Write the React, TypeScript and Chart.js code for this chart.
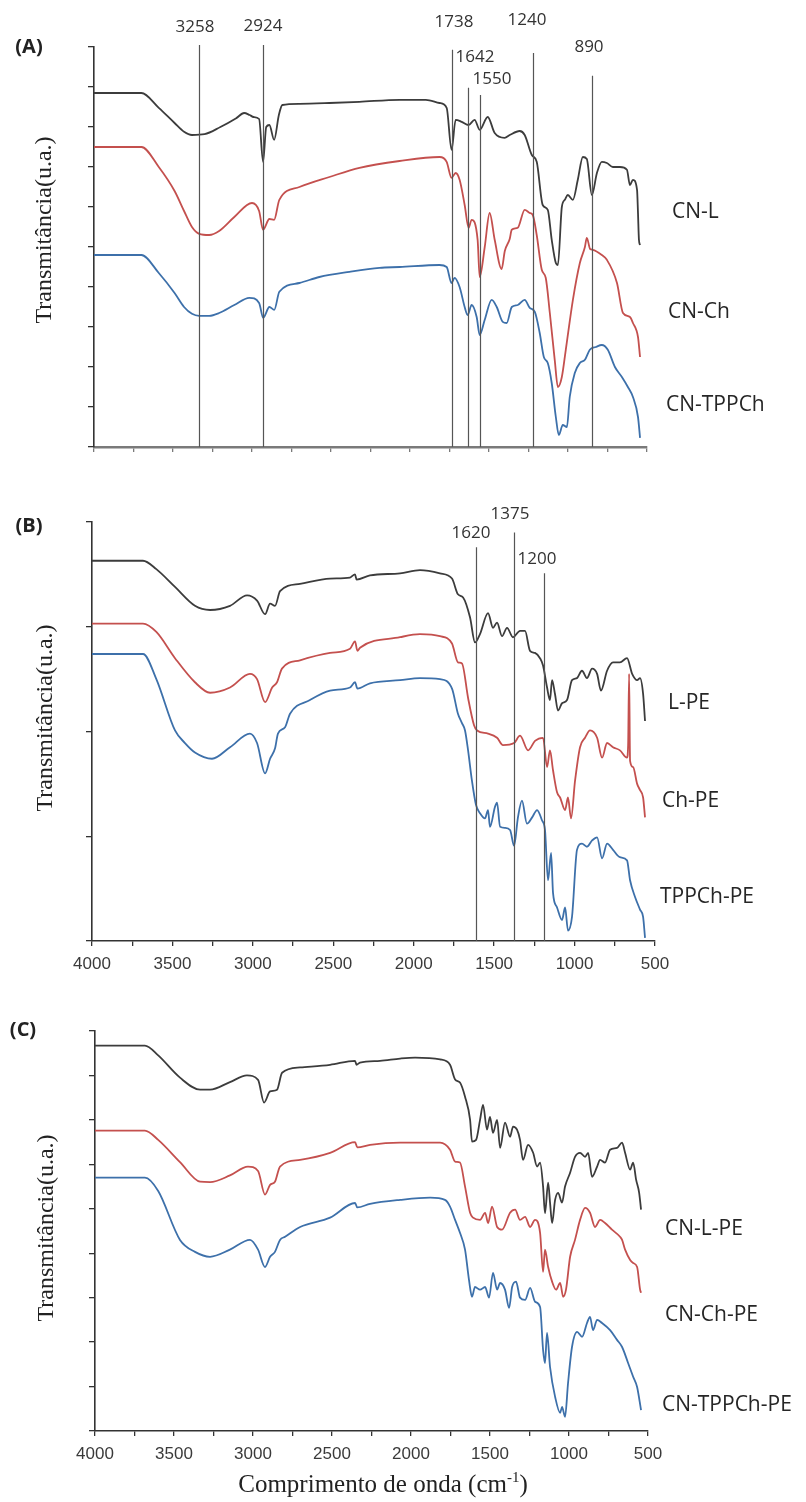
import React, { useEffect, useRef } from "react";
import { Chart, registerables } from "chart.js";
Chart.register(...registerables);

// ---------------- DATA (wavenumber cm-1, transmittance a.u.) ----------------
// Panel A
const cnL: number[][] = [[4000,8.85],[3700,8.85],[3590,8.48],[3490,8.1],[3430,7.88],[3380,7.8],[3300,7.82],[3200,8.0],[3100,8.22],[3050,8.35],[3015,8.3],[2990,8.25],[2955,8.2],[2930,7.13],[2910,8.0],[2890,8.05],[2860,7.68],[2830,8.3],[2808,8.55],[2700,8.58],[2510,8.6],[2320,8.63],[2066,8.68],[1900,8.68],[1813,8.6],[1768,8.48],[1737,7.43],[1711,8.18],[1673,8.13],[1629,8.05],[1591,8.18],[1559,7.93],[1508,8.25],[1464,7.85],[1401,7.73],[1369,7.8],[1306,7.9],[1274,7.8],[1229,7.3],[1198,7.13],[1160,6.05],[1128,5.93],[1103,5.18],[1077,4.6],[1064,4.55],[1039,6.0],[1020,6.18],[1001,6.3],[969,6.18],[938,6.68],[906,7.25],[881,7.2],[849,6.3],[817,6.85],[786,7.13],[754,7.1],[716,7.0],[671,7.0],[627,6.93],[608,6.55],[589,6.68],[563,6.43],[557,5.85],[551,5.18],[544,5.05]];
const cnCh: number[][] = [[4000,7.5],[3700,7.5],[3590,7.0],[3490,6.4],[3430,5.9],[3380,5.5],[3334,5.33],[3271,5.3],[3208,5.4],[3112,5.75],[3000,6.1],[2955,5.9],[2930,5.43],[2890,5.7],[2860,5.68],[2827,6.18],[2700,6.5],[2510,6.75],[2320,6.98],[2066,7.15],[1813,7.25],[1768,7.13],[1737,6.73],[1711,6.85],[1686,6.68],[1654,6.05],[1629,5.48],[1610,5.68],[1572,5.18],[1559,4.25],[1527,5.0],[1496,5.85],[1464,5.18],[1420,4.45],[1400,4.9],[1369,5.2],[1356,5.43],[1318,5.48],[1274,5.93],[1242,5.85],[1223,5.8],[1198,5.3],[1166,4.43],[1141,4.23],[1115,3.35],[1084,2.18],[1064,1.5],[1039,1.75],[1014,2.43],[969,3.68],[925,4.6],[893,5.0],[881,5.23],[860,4.95],[843,4.93],[786,4.8],[754,4.68],[690,4.1],[652,3.35],[608,3.25],[589,3.1],[557,2.75],[544,2.25]];
const cnTPPCh: number[][] = [[4000,4.8],[3700,4.8],[3590,4.35],[3490,3.85],[3430,3.5],[3380,3.33],[3334,3.28],[3271,3.28],[3208,3.35],[3112,3.55],[3017,3.73],[2955,3.6],[2929,3.23],[2890,3.5],[2859,3.43],[2827,3.88],[2700,4.1],[2574,4.25],[2383,4.38],[2193,4.48],[2066,4.5],[1813,4.55],[1768,4.5],[1737,4.1],[1718,4.23],[1686,4.0],[1654,3.5],[1635,3.3],[1610,3.55],[1578,3.25],[1559,2.8],[1527,3.18],[1483,3.68],[1451,3.5],[1413,3.13],[1388,3.1],[1356,3.5],[1318,3.55],[1274,3.68],[1242,3.48],[1210,3.38],[1179,2.85],[1153,2.25],[1128,2.1],[1103,1.6],[1077,0.75],[1058,0.3],[1033,0.55],[1007,0.5],[989,1.25],[957,1.85],[925,2.1],[893,2.18],[862,2.43],[824,2.5],[786,2.55],[748,2.43],[703,2.0],[659,1.75],[621,1.5],[589,1.25],[557,0.75],[544,0.23]];

// Panel B
const lPE: number[][] = [[4000,3.63],[3683,3.63],[3600,3.55],[3484,3.38],[3360,3.2],[3266,3.16],[3142,3.2],[3036,3.3],[2974,3.25],[2924,3.12],[2893,3.22],[2862,3.2],[2831,3.34],[2707,3.41],[2520,3.46],[2396,3.47],[2365,3.5],[2355,3.45],[2272,3.49],[2085,3.51],[1961,3.54],[1837,3.51],[1762,3.46],[1725,3.31],[1693,3.28],[1650,3.09],[1619,2.85],[1588,2.93],[1538,3.13],[1507,2.99],[1482,3.04],[1451,2.91],[1420,2.99],[1383,2.9],[1339,2.96],[1308,2.96],[1277,2.77],[1246,2.75],[1215,2.7],[1196,2.63],[1171,2.42],[1153,2.3],[1140,2.49],[1122,2.36],[1103,2.2],[1078,2.27],[1047,2.3],[1016,2.49],[985,2.51],[954,2.58],[923,2.51],[891,2.6],[860,2.55],[836,2.39],[798,2.58],[761,2.66],[718,2.66],[674,2.7],[642,2.55],[611,2.49],[593,2.51],[574,2.36],[562,2.1]];
const chPE: number[][] = [[4000,3.03],[3683,3.03],[3600,2.95],[3484,2.7],[3360,2.47],[3266,2.37],[3142,2.42],[3018,2.55],[2974,2.5],[2924,2.28],[2880,2.42],[2850,2.47],[2819,2.6],[2707,2.68],[2520,2.75],[2396,2.79],[2365,2.86],[2350,2.77],[2334,2.8],[2085,2.9],[1961,2.93],[1837,2.91],[1762,2.84],[1725,2.66],[1700,2.65],[1662,2.32],[1625,2.06],[1606,2.01],[1538,1.98],[1482,1.94],[1445,1.87],[1376,1.89],[1339,1.96],[1289,1.82],[1246,1.91],[1196,1.94],[1171,1.66],[1153,1.82],[1134,1.63],[1109,1.42],[1090,1.37],[1059,1.25],[1041,1.37],[1022,1.17],[997,1.53],[966,1.85],[935,1.94],[904,2.01],[860,1.94],[829,1.75],[798,1.89],[761,1.85],[718,1.82],[674,1.75],[667,1.87],[661,2.55],[655,1.72],[636,1.66],[611,1.5],[593,1.44],[574,1.37],[562,1.18]];
const tppchPE: number[][] = [[4000,2.74],[3683,2.74],[3600,2.5],[3484,2.01],[3422,1.89],[3360,1.8],[3254,1.74],[3142,1.85],[3018,1.98],[2974,1.89],[2924,1.6],[2893,1.74],[2862,1.84],[2844,1.98],[2800,2.04],[2769,2.17],[2645,2.3],[2520,2.39],[2396,2.42],[2365,2.47],[2350,2.41],[2272,2.46],[2085,2.49],[1961,2.51],[1837,2.5],[1762,2.41],[1725,2.17],[1700,2.08],[1681,2.01],[1662,1.82],[1638,1.53],[1613,1.3],[1588,1.22],[1557,1.17],[1538,1.25],[1526,1.09],[1495,1.28],[1482,1.32],[1463,1.09],[1432,1.08],[1401,1.06],[1376,0.91],[1352,1.18],[1327,1.34],[1296,1.12],[1264,1.18],[1233,1.25],[1202,1.15],[1184,1.06],[1165,0.58],[1146,0.84],[1134,0.46],[1109,0.32],[1078,0.2],[1059,0.32],[1041,0.1],[1016,0.23],[985,0.87],[954,0.93],[923,0.9],[891,0.96],[860,0.99],[829,0.79],[798,0.93],[761,0.87],[718,0.8],[674,0.77],[655,0.58],[624,0.42],[593,0.3],[574,0.23],[562,0.03]];

// Panel C
const cnLPE: number[][] = [[4000,8.67],[3684,8.67],[3600,8.45],[3462,7.95],[3335,7.68],[3272,7.68],[3146,7.85],[3038,8.0],[2968,7.9],[2930,7.39],[2892,7.64],[2848,7.68],[2816,8.06],[2702,8.18],[2512,8.24],[2354,8.33],[2345,8.24],[2323,8.29],[2196,8.33],[2069,8.38],[1974,8.4],[1816,8.36],[1753,8.24],[1721,7.91],[1690,7.84],[1658,7.52],[1626,7.0],[1614,6.51],[1588,6.55],[1563,7.0],[1544,7.34],[1519,6.78],[1500,7.07],[1481,6.71],[1455,7.0],[1436,6.37],[1405,6.94],[1373,6.62],[1354,6.85],[1329,6.78],[1310,6.55],[1291,6.1],[1259,6.44],[1227,6.26],[1202,5.95],[1183,6.04],[1164,5.5],[1152,4.9],[1132,5.59],[1120,5.14],[1107,4.68],[1088,5.2],[1069,5.36],[1044,5.14],[1025,5.5],[993,5.81],[962,6.17],[930,6.26],[898,6.17],[879,6.26],[854,5.72],[822,5.95],[803,6.1],[772,6.04],[740,6.33],[696,6.37],[664,6.49],[645,6.26],[613,5.88],[594,6.04],[575,5.65],[556,5.36],[544,4.98]];
const cnChPE: number[][] = [[4000,6.76],[3684,6.76],[3600,6.55],[3462,6.05],[3335,5.61],[3272,5.6],[3146,5.75],[3032,5.95],[2968,5.85],[2924,5.32],[2892,5.54],[2861,5.61],[2829,5.95],[2702,6.1],[2512,6.26],[2354,6.5],[2340,6.38],[2259,6.44],[2069,6.49],[1816,6.49],[1753,6.33],[1721,6.06],[1690,6.04],[1658,5.5],[1626,4.91],[1607,4.8],[1563,4.75],[1531,4.91],[1512,4.68],[1487,5.05],[1455,4.59],[1424,4.53],[1373,4.91],[1341,4.98],[1310,4.75],[1278,4.82],[1246,4.59],[1215,4.75],[1183,4.46],[1164,3.58],[1152,4.08],[1132,3.69],[1107,3.36],[1082,3.18],[1056,3.33],[1037,3.02],[1019,3.18],[993,3.92],[962,4.3],[930,4.75],[898,5.02],[867,4.91],[835,4.59],[803,4.75],[772,4.68],[728,4.53],[677,4.37],[664,4.3],[645,4.08],[613,3.85],[594,3.78],[569,3.69],[550,3.18],[544,3.11]];
const cnTPPChPE: number[][] = [[4000,5.7],[3684,5.7],[3600,5.4],[3462,4.3],[3367,4.03],[3272,3.92],[3146,4.08],[3019,4.3],[2968,4.08],[2924,3.69],[2892,3.92],[2861,4.03],[2829,4.3],[2797,4.37],[2702,4.59],[2512,4.8],[2354,5.13],[2340,5.03],[2259,5.11],[2069,5.2],[1879,5.25],[1785,5.2],[1753,5.05],[1721,4.75],[1690,4.46],[1658,4.08],[1633,3.4],[1614,3.02],[1595,3.24],[1563,3.18],[1531,3.24],[1506,3.0],[1481,3.56],[1455,3.18],[1436,3.33],[1405,3.18],[1379,2.77],[1360,3.24],[1335,3.36],[1310,3.0],[1278,2.95],[1246,3.22],[1215,2.91],[1183,2.79],[1164,1.82],[1152,1.53],[1139,2.21],[1120,1.44],[1088,0.77],[1056,0.41],[1044,0.54],[1025,0.32],[1006,1.08],[981,1.89],[949,2.23],[917,2.12],[886,2.43],[867,2.57],[848,2.27],[822,2.5],[791,2.43],[740,2.27],[696,2.05],[664,1.89],[626,1.53],[594,1.22],[569,0.99],[544,0.47]];

// Marked bands
const peakLabelsA = ["3258", "2924", "1738", "1642", "1550", "1240", "890"];
const peakPosA = [3334, 2929, 1737, 1635, 1559, 1223, 849];
const peakTopA = [10.05, 10.05, 9.93, 8.98, 8.8, 9.85, 9.28];
const peakLabelsB = ["1620", "1375", "1200"];
const peakPosB = [1610, 1376, 1190];
const peakTopB = [3.76, 3.9, 3.51];

const namesA = ["CN-L", "CN-Ch", "CN-TPPCh"];
const namesB = ["L-PE", "Ch-PE", "TPPCh-PE"];
const namesC = ["CN-L-PE", "CN-Ch-PE", "CN-TPPCh-PE"];

// ---------------- STYLE ----------------
const BLACK = "#3c3c3c";
const RED = "#c4504e";
const BLUE = "#3d70aa";
const SANS = '"Open Sans", "Noto Sans", sans-serif';
const SERIF = '"Liberation Serif", "Times New Roman", serif';
const TICKFONT = '"Liberation Sans", Arial, sans-serif';

type Part = { text: string; font: string; dy?: number };
type TextItem = { parts: Part[]; x: number; y: number; align: "left" | "center"; color: string; rotate?: boolean; baseline?: CanvasTextBaseline };
type VLine = { x: number; top: number };

const one = (text: string, font: string): Part[] => [{ text, font }];

function makeAnnotPlugin(vlines: VLine[], texts: TextItem[]) {
  return {
    id: "annot",
    afterDatasetsDraw(chart: any) {
      const ctx: CanvasRenderingContext2D = chart.ctx;
      const xs = chart.scales.x;
      const ys = chart.scales.y;
      ctx.save();
      ctx.strokeStyle = "#555";
      ctx.lineWidth = 1.2;
      vlines.forEach((l) => {
        const px = Math.round(xs.getPixelForValue(l.x)) + 0.5;
        ctx.beginPath();
        ctx.moveTo(px, ys.getPixelForValue(l.top));
        ctx.lineTo(px, ys.getPixelForValue(0));
        ctx.stroke();
      });
      texts.forEach((t) => {
        ctx.save();
        ctx.translate(t.x, t.y);
        if (t.rotate) ctx.rotate(-Math.PI / 2);
        ctx.fillStyle = t.color;
        ctx.textBaseline = t.baseline || "middle";
        ctx.textAlign = "left";
        let total = 0;
        const widths = t.parts.map((p) => {
          ctx.font = p.font;
          const w = ctx.measureText(p.text).width;
          total += w;
          return w;
        });
        let cx = t.align === "center" ? -total / 2 : 0;
        t.parts.forEach((p, i) => {
          ctx.font = p.font;
          ctx.fillText(p.text, cx, p.dy || 0);
          cx += widths[i];
        });
        ctx.restore();
      });
      ctx.restore();
    },
  };
}

type PanelCfg = {
  top: number;
  height: number;
  left: number;
  right: number;
  areaTop: number;
  areaBottom: number;
  yMax: number;
  series: { data: number[][]; color: string }[];
  showXLabels: boolean;
  xAxisColor: string;
  xAxisWidth: number;
  vlines: VLine[];
  texts: TextItem[];
};

function Panel({ cfg }: { cfg: PanelCfg }) {
  const ref = useRef<HTMLCanvasElement | null>(null);
  useEffect(() => {
    if (!ref.current) return;
    const chart = new Chart(ref.current, {
      type: "line",
      data: {
        datasets: cfg.series.map((s) => ({
          data: s.data.map((p) => ({ x: p[0], y: p[1] })),
          borderColor: s.color,
          borderWidth: 1.8,
          pointRadius: 0,
          fill: false,
          cubicInterpolationMode: "monotone" as const,
        })),
      },
      options: {
        responsive: false,
        animation: false,
        devicePixelRatio: 1,
        layout: { padding: { top: cfg.areaTop, right: 806 - cfg.right, left: 0, bottom: 0 } },
        plugins: { legend: { display: false }, tooltip: { enabled: false }, title: { display: false } },
        scales: {
          x: {
            type: "linear",
            reverse: true,
            min: 500,
            max: 4000,
            position: "bottom",
            afterFit: (s: any) => {
              s.height = cfg.height - cfg.areaBottom;
            },
            border: { display: true, color: cfg.xAxisColor, width: cfg.xAxisWidth },
            grid: { display: true, drawOnChartArea: false, drawTicks: true, tickLength: 5, color: cfg.xAxisColor, lineWidth: 1.3 },
            ticks: {
              stepSize: 250,
              display: cfg.showXLabels,
              autoSkip: false,
              maxRotation: 0,
              padding: 8,
              color: "#3a3a3a",
              font: { family: TICKFONT, size: 17 },
              callback: (v: any) => (Number(v) % 500 === 0 ? String(v) : ""),
            },
          },
          y: {
            type: "linear",
            min: 0,
            max: cfg.yMax,
            afterFit: (s: any) => {
              s.width = cfg.left;
            },
            border: { display: true, color: "#333", width: 1.6 },
            grid: { display: true, drawOnChartArea: false, drawTicks: true, tickLength: 6, color: "#333", lineWidth: 1.3 },
            ticks: { display: false, stepSize: 1 },
          },
        },
      },
      plugins: [makeAnnotPlugin(cfg.vlines, cfg.texts)],
    } as any);
    return () => chart.destroy();
  }, [cfg]);
  return (
    <canvas
      ref={ref}
      width={806}
      height={cfg.height}
      style={{ position: "absolute", left: 0, top: cfg.top, width: 806, height: cfg.height, display: "block" }}
    />
  );
}

const yTitle = (x: number, y: number): TextItem => ({
  parts: one("Transmitância(u.a.)", `24px ${SERIF}`),
  x,
  y,
  align: "center",
  color: "#222",
  rotate: true,
});
const panelLabel = (text: string, x: number, y: number): TextItem => ({
  parts: one(text, `bold 20px ${SANS}`),
  x,
  y,
  align: "center",
  color: "#222",
});
const seriesLabel = (text: string, x: number, y: number): TextItem => ({
  parts: one(text, `21px ${SANS}`),
  x,
  y,
  align: "left",
  color: "#262626",
});
const peakLabel = (text: string, x: number, y: number): TextItem => ({
  parts: one(text, `17px ${SANS}`),
  x,
  y,
  align: "center",
  color: "#333",
});

const peakLabelPosA = [[195, 27], [263, 26], [454, 22], [475, 57], [492, 79], [527, 20], [589, 47]];
const peakLabelPosB = [[471, 53], [510, 34], [537, 79]];

const panelA: PanelCfg = {
  top: 0,
  height: 480,
  left: 94,
  right: 647,
  areaTop: 47,
  areaBottom: 447,
  yMax: 10,
  series: [
    { data: cnL, color: BLACK },
    { data: cnCh, color: RED },
    { data: cnTPPCh, color: BLUE },
  ],
  showXLabels: false,
  xAxisColor: "#7a7a7a",
  xAxisWidth: 2.5,
  vlines: peakPosA.map((x, i) => ({ x, top: peakTopA[i] })),
  texts: [
    panelLabel("(A)", 29, 47),
    yTitle(45, 230),
    seriesLabel(namesA[0], 672, 212),
    seriesLabel(namesA[1], 668, 312),
    seriesLabel(namesA[2], 666, 405),
    ...peakLabelsA.map((t, i) => peakLabel(t, peakLabelPosA[i][0], peakLabelPosA[i][1])),
  ],
};

const panelB: PanelCfg = {
  top: 480,
  height: 500,
  left: 92,
  right: 655,
  areaTop: 42,
  areaBottom: 461,
  yMax: 4,
  series: [
    { data: lPE, color: BLACK },
    { data: chPE, color: RED },
    { data: tppchPE, color: BLUE },
  ],
  showXLabels: true,
  xAxisColor: "#333",
  xAxisWidth: 1.6,
  vlines: peakPosB.map((x, i) => ({ x, top: peakTopB[i] })),
  texts: [
    panelLabel("(B)", 29, 46),
    yTitle(46, 238),
    seriesLabel(namesB[0], 668, 223),
    seriesLabel(namesB[1], 662, 321),
    seriesLabel(namesB[2], 660, 417),
    ...peakLabelsB.map((t, i) => peakLabel(t, peakLabelPosB[i][0], peakLabelPosB[i][1])),
  ],
};

const panelC: PanelCfg = {
  top: 980,
  height: 522,
  left: 95,
  right: 648,
  areaTop: 51,
  areaBottom: 451,
  yMax: 9,
  series: [
    { data: cnLPE, color: BLACK },
    { data: cnChPE, color: RED },
    { data: cnTPPChPE, color: BLUE },
  ],
  showXLabels: true,
  xAxisColor: "#333",
  xAxisWidth: 1.6,
  vlines: [],
  texts: [
    panelLabel("(C)", 23, 50),
    yTitle(47, 248),
    seriesLabel(namesC[0], 665, 249),
    seriesLabel(namesC[1], 665, 335),
    seriesLabel(namesC[2], 662, 425),
    {
      parts: [
        { text: "Comprimento de onda (cm", font: `25px ${SERIF}` },
        { text: "-1", font: `15px ${SERIF}`, dy: -10 },
        { text: ")", font: `25px ${SERIF}` },
      ],
      x: 383,
      y: 512,
      align: "center",
      color: "#222",
      baseline: "alphabetic",
    },
  ],
};

export default function App() {
  useEffect(() => {
    document.body.style.margin = "0";
    document.body.style.background = "#fff";
  }, []);
  return (
    <div style={{ position: "relative", width: 806, height: 1502, background: "#fff" }}>
      <Panel cfg={panelA} />
      <Panel cfg={panelB} />
      <Panel cfg={panelC} />
    </div>
  );
}
